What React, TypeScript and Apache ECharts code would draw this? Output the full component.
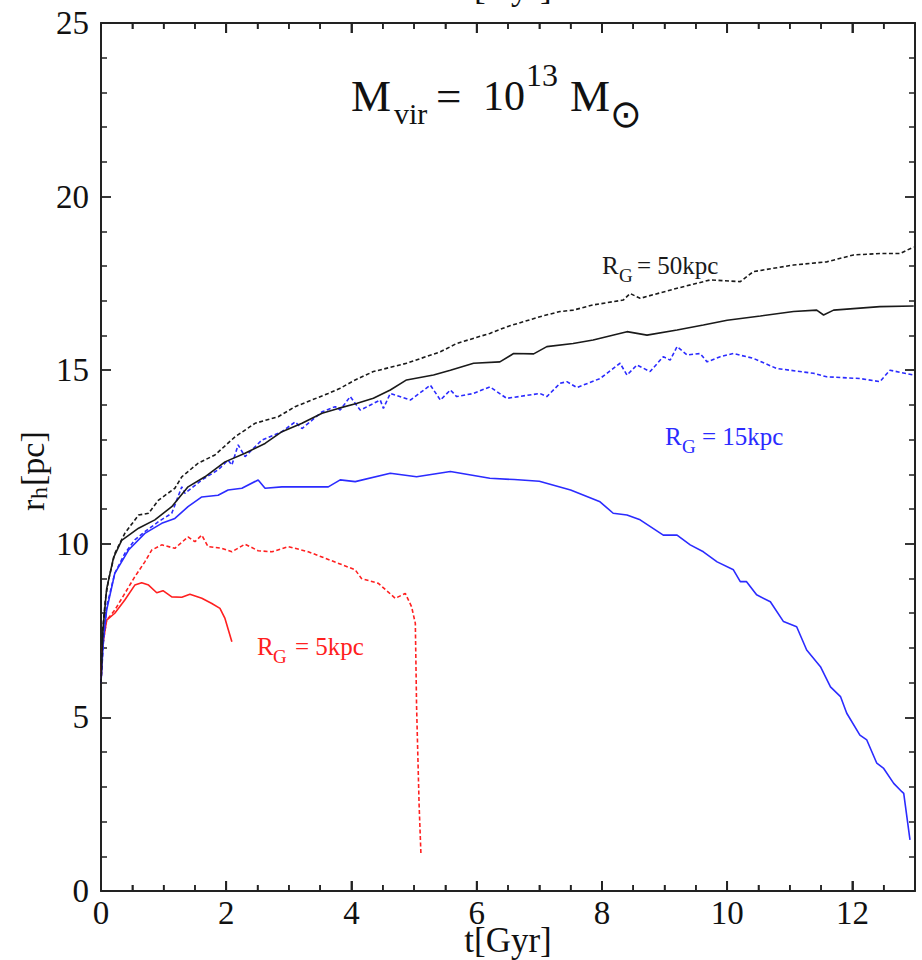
import React, { useEffect, useRef } from "react";
import * as echarts from "echarts";

// ---- data (t [Gyr], r_h [pc]) ----
const blackDashed: [number, number][] = [
  [0, 6], [0.03, 7.6], [0.07, 8.4], [0.12, 8.96], [0.22, 9.72], [0.38, 10.3], [0.6, 10.83], [0.76, 10.88],
  [0.92, 11.26], [1.18, 11.6], [1.29, 11.93], [1.55, 12.32], [1.82, 12.56], [2.14, 13.08], [2.46, 13.47],
  [2.83, 13.66], [3.1, 13.95], [3.63, 14.33], [3.82, 14.48], [4.06, 14.72], [4.35, 14.96], [4.88, 15.2],
  [5.42, 15.53], [5.68, 15.77], [6.21, 16.06], [6.48, 16.25], [7.01, 16.54], [7.33, 16.69], [7.54, 16.73],
  [7.86, 16.88], [8.34, 17.02], [8.45, 17.21], [8.61, 17.07], [9.2, 17.36], [9.73, 17.6], [10.21, 17.55],
  [10.42, 17.84], [11.06, 18.03], [11.59, 18.12], [12.02, 18.32], [12.44, 18.36], [12.76, 18.36], [12.98, 18.55],
];

const blackSolid: [number, number][] = [
  [0, 6], [0.03, 7.5], [0.09, 8.7], [0.2, 9.6], [0.33, 10.1], [0.6, 10.45], [0.86, 10.69], [1.13, 11.07],
  [1.39, 11.64], [1.66, 11.93], [1.98, 12.36], [2.3, 12.61], [2.62, 12.89], [2.89, 13.23], [3.21, 13.47],
  [3.53, 13.76], [3.79, 13.9], [4.08, 14.04], [4.35, 14.19], [4.62, 14.43], [4.88, 14.72], [5.31, 14.86],
  [5.58, 15.0], [5.95, 15.2], [6.37, 15.24], [6.59, 15.48], [6.91, 15.47], [7.12, 15.68], [7.54, 15.77],
  [7.86, 15.87], [8.4, 16.11], [8.72, 16.01], [9.2, 16.16], [9.62, 16.3], [10.0, 16.44], [10.53, 16.56],
  [11.06, 16.69], [11.43, 16.73], [11.54, 16.59], [11.7, 16.73], [12.44, 16.83], [12.98, 16.85],
];

const blueDashed: [number, number][] = [
  [0, 6], [0.04, 7.2], [0.09, 8.19], [0.22, 9.15], [0.38, 9.72], [0.54, 10.11], [0.7, 10.35], [0.92, 10.64],
  [1.13, 10.88], [1.29, 11.64], [1.34, 11.45], [1.61, 11.84], [1.87, 12.13], [2.03, 12.41], [2.09, 12.27],
  [2.19, 12.85], [2.3, 12.51], [2.57, 12.99], [2.89, 13.23], [3.1, 13.51], [3.21, 13.32], [3.53, 13.8],
  [3.74, 13.95], [3.82, 13.85], [3.98, 14.24], [4.14, 13.85], [4.46, 14.14], [4.51, 13.9], [4.62, 14.33],
  [4.94, 14.14], [5.26, 14.57], [5.42, 14.14], [5.58, 14.43], [5.68, 14.24], [5.95, 14.33], [6.21, 14.52],
  [6.48, 14.19], [7.01, 14.33], [7.12, 14.24], [7.33, 14.62], [7.44, 14.67], [7.6, 14.5], [7.97, 14.76],
  [8.29, 15.2], [8.4, 14.86], [8.56, 15.15], [8.77, 14.96], [8.98, 15.39], [9.09, 15.29], [9.2, 15.68],
  [9.36, 15.44], [9.57, 15.48], [9.68, 15.24], [9.89, 15.39], [10.1, 15.48], [10.42, 15.34], [10.79, 15.05],
  [11.38, 14.91], [11.59, 14.81], [12.12, 14.76], [12.44, 14.67], [12.6, 15.0], [12.98, 14.86],
];

const blueSolid: [number, number][] = [
  [0, 6], [0.04, 7.3], [0.09, 8.09], [0.22, 9.15], [0.44, 9.82], [0.7, 10.3], [0.97, 10.59], [1.18, 10.73],
  [1.39, 11.07], [1.61, 11.35], [1.87, 11.4], [2.03, 11.55], [2.25, 11.6], [2.51, 11.84], [2.62, 11.6],
  [2.89, 11.64], [3.37, 11.64], [3.63, 11.64], [3.82, 11.84], [4.06, 11.79], [4.62, 12.03], [5.04, 11.93],
  [5.58, 12.08], [6.21, 11.89], [6.6, 11.85], [7.0, 11.8], [7.5, 11.55], [7.97, 11.21], [8.18, 10.88],
  [8.4, 10.83], [8.61, 10.69], [8.98, 10.25], [9.2, 10.25], [9.41, 9.97], [9.62, 9.77], [9.84, 9.48],
  [10.1, 9.25], [10.21, 8.91], [10.31, 8.91], [10.47, 8.53], [10.69, 8.33], [10.9, 7.76], [11.11, 7.61],
  [11.27, 6.94], [11.49, 6.46], [11.65, 5.88], [11.81, 5.6], [11.91, 5.12], [12.12, 4.49], [12.23, 4.35],
  [12.39, 3.68], [12.5, 3.53], [12.66, 3.1], [12.79, 2.86], [12.82, 2.81], [12.92, 1.47],
];

const redSolid: [number, number][] = [
  [0, 6], [0.02, 7.0], [0.09, 7.8], [0.22, 8.0], [0.38, 8.38], [0.54, 8.81], [0.65, 8.88], [0.76, 8.81],
  [0.89, 8.59], [0.99, 8.65], [1.13, 8.47], [1.29, 8.46], [1.42, 8.55], [1.61, 8.43], [1.77, 8.28],
  [1.9, 8.14], [1.98, 7.85], [2.09, 7.18],
];

const redDashed: [number, number][] = [
  [0, 6], [0.02, 7.0], [0.09, 7.8], [0.22, 8.09], [0.38, 8.57], [0.54, 9.05], [0.7, 9.48], [0.81, 9.82],
  [0.97, 9.97], [1.18, 9.87], [1.39, 10.2], [1.5, 10.06], [1.61, 10.25], [1.71, 9.92], [1.93, 9.87],
  [2.09, 9.77], [2.3, 9.99], [2.51, 9.8], [2.73, 9.77], [2.99, 9.92], [3.31, 9.77], [3.63, 9.55],
  [4.06, 9.25], [4.16, 9.0], [4.43, 8.86], [4.7, 8.43], [4.86, 8.57], [4.96, 8.19], [5.02, 7.71],
  [5.04, 5.31], [5.08, 2.5], [5.11, 1.04],
];

// ticks of the t axis (drawn on bottom and top), majors carry labels
const xMax = 13;
const yMax = 25;
const xMajorTicks = [0, 2, 4, 6, 8, 10, 12];
const xMinorTicks = [0.5, 1, 1.5, 2.5, 3, 3.5, 4.5, 5, 5.5, 6.5, 7, 7.5, 8.5, 9, 9.5, 10.5, 11, 11.5, 12.5];
const xLabelText = "t[Gyr]";
const yLabelParts = ["r", "h", "[pc]"];
const titleParts = ["M", "vir", "=", "10", "13", "M", "\u2299"];
const annBlack = ["R", "G", "= 50kpc"];
const annBlue = ["R", "G", "= 15kpc"];
const annRed = ["R", "G", "= 5kpc"];

const SERIF = "'Liberation Serif', 'Times New Roman', serif";
const BLACK = "#1a1a1a";
const BLUE = "#2b2bff";
const RED = "#ff2020";
const DASH = [4, 2.5];

const GRID = { left: 101, top: 23, right: 7, bottom: 69 };
const W = 922;
const H = 960;

function txt(text: string, x: number, y: number, size: number, fill: string, extra: any = {}) {
  return {
    type: "text",
    x,
    y,
    silent: true,
    style: {
      text,
      fontSize: size,
      fontFamily: SERIF,
      fill,
      align: "left",
      verticalAlign: "middle",
      ...extra,
    },
  };
}

export default function App() {
  const ref = useRef<HTMLDivElement>(null);

  useEffect(() => {
    if (!ref.current) return;
    const chart = echarts.init(ref.current, undefined, { renderer: "svg" });

    const axisLine = { show: true, onZero: false, lineStyle: { color: "#222", width: 2 } };

    const mkSeries = (data: [number, number][], color: string, dashed: boolean, z: number) => ({
      type: "line",
      data,
      xAxisIndex: 0,
      yAxisIndex: 0,
      showSymbol: false,
      symbol: "none",
      smooth: false,
      z,
      lineStyle: { color, width: 1.6, type: dashed ? DASH : "solid" },
    });

    const textGraphics: any[] = [
      // title
      txt(titleParts[0], 351, 96, 45, "#111"),
      txt(titleParts[1], 394, 113, 30, "#111"),
      txt(titleParts[2], 436, 96, 45, "#111"),
      txt(titleParts[3], 483, 96, 42, "#111"),
      txt(titleParts[4], 526, 75, 32, "#111"),
      txt(titleParts[5], 570, 96, 45, "#111"),
      txt(titleParts[6], 610, 114, 38, "#111", { fontFamily: "'DejaVu Sans', sans-serif" }),
      // annotations
      txt(annBlack[0], 602, 265, 25, BLACK),
      txt(annBlack[1], 619, 275, 19, BLACK),
      txt(annBlack[2], 637, 265, 25, BLACK),
      txt(annBlue[0], 665, 436, 25, BLUE),
      txt(annBlue[1], 682, 446, 19, BLUE),
      txt(annBlue[2], 702, 436, 25, BLUE),
      txt(annRed[0], 257, 646, 25, RED),
      txt(annRed[1], 273, 656, 19, RED),
      txt(annRed[2], 295, 646, 25, RED),
      // x-axis name (bottom) and the clipped mirror at the top
      txt(xLabelText, 508, 940, 35, "#111", { align: "center" }),
      txt(xLabelText, 508, -13, 35, "#111", { align: "center" }),
      // y-axis name, rotated
      {
        type: "group",
        x: 32,
        y: 473,
        rotation: Math.PI / 2,
        children: [
          txt(yLabelParts[0], -38, 0, 34, "#111"),
          txt(yLabelParts[1], -26, 7, 24, "#111"),
          txt(yLabelParts[2], -13, 0, 34, "#111"),
        ],
      },
    ];

    const xAxisCommon = {
      type: "value",
      min: 0,
      max: xMax,
      interval: 2,
      axisLine,
      splitLine: { show: false },
      axisTick: { show: true, inside: true, length: 10, lineStyle: { color: "#222", width: 1.8 } },
      minorTick: { show: true, splitNumber: 4, length: 6, lineStyle: { color: "#222", width: 1.5 } },
    };

    const option: any = {
      animation: false,
      backgroundColor: "#ffffff",
      grid: { ...GRID, containLabel: false, outerBoundsMode: "none" },
      xAxis: [
        {
          ...xAxisCommon,
          position: "bottom",
          axisLabel: {
            show: true,
            showMaxLabel: false,
            fontSize: 33,
            fontFamily: SERIF,
            color: "#111",
            margin: 5,
          },
        },
        {
          ...xAxisCommon,
          position: "top",
          axisLabel: { show: false },
        },
      ],
      yAxis: [
        {
          type: "value",
          position: "left",
          min: 0,
          max: yMax,
          interval: 5,
          axisLine,
          splitLine: { show: false },
          axisTick: { show: true, inside: true, length: 10, lineStyle: { color: "#222", width: 1.8 } },
          minorTick: { show: true, splitNumber: 5, length: 6, lineStyle: { color: "#222", width: 1.5 } },
          axisLabel: { fontSize: 33, fontFamily: SERIF, color: "#111", margin: 12 },
        },
        {
          type: "value",
          position: "right",
          min: 0,
          max: yMax,
          interval: 5,
          axisLine,
          splitLine: { show: false },
          axisTick: { show: true, inside: true, length: 10, lineStyle: { color: "#222", width: 1.8 } },
          minorTick: { show: true, splitNumber: 5, length: 6, lineStyle: { color: "#222", width: 1.5 } },
          axisLabel: { show: false },
        },
      ],
      series: [
        mkSeries(redDashed, RED, true, 2),
        mkSeries(redSolid, RED, false, 2),
        mkSeries(blueDashed, BLUE, true, 3),
        mkSeries(blueSolid, BLUE, false, 3),
        mkSeries(blackDashed, BLACK, true, 4),
        mkSeries(blackSolid, BLACK, false, 4),
      ],
      graphic: textGraphics,
    };

    chart.setOption(option);

    // t-axis ticks (bottom and top, pointing inward)
    const plotBottom = H - GRID.bottom;
    const plotTop = GRID.top;
    const toPx = (v: number): number => {
      try {
        const p = chart.convertToPixel({ xAxisIndex: 0 } as any, v) as any;
        if (typeof p === "number" && isFinite(p)) return p;
      } catch (e) {
        /* fall through */
      }
      return GRID.left + (v / xMax) * (W - GRID.left - GRID.right);
    };
    const tickEls: any[] = [];
    const addTick = (v: number, len: number, lw: number) => {
      const x = toPx(v);
      tickEls.push({
        type: "line",
        silent: true,
        z: 100,
        shape: { x1: x, y1: plotBottom, x2: x, y2: plotBottom - len },
        style: { stroke: "#222", lineWidth: lw },
      });
      tickEls.push({
        type: "line",
        silent: true,
        z: 100,
        shape: { x1: x, y1: plotTop, x2: x, y2: plotTop + len },
        style: { stroke: "#222", lineWidth: lw },
      });
    };
    xMajorTicks.forEach((v) => addTick(v, 10, 1.8));
    xMinorTicks.forEach((v) => addTick(v, 6, 1.5));

    try {
      chart.setOption({ graphic: [...textGraphics, ...tickEls] });
    } catch (e) {
      /* keep the chart as is */
    }

    return () => chart.dispose();
  }, []);

  return (
    <div
      ref={ref}
      style={{ position: "fixed", left: 0, top: 0, width: W, height: H, background: "#fff" }}
    />
  );
}
